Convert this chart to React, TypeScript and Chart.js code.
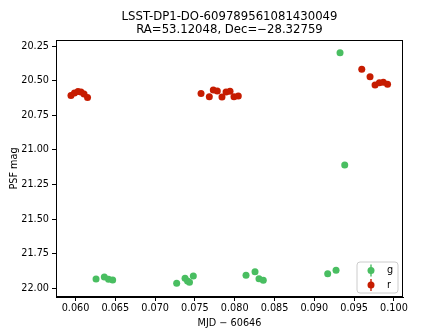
import React, { useEffect, useRef } from "react";
import { Chart, registerables } from "chart.js";

Chart.register(...registerables);

const TITLE_LINES = ["LSST-DP1-DO-609789561081430049", "RA=53.12048, Dec=\u221228.32759"];
const X_LABEL = "MJD \u2212 60646";
const Y_LABEL = "PSF mag";
const BANDS = ["g", "r"];
const BAND_COLORS = ["#49be61", "#c61c00"];

const G_MJD = [
  0.06258, 0.06362, 0.06415, 0.06467,
  0.07271, 0.07376, 0.07407, 0.07432, 0.0748,
  0.08142, 0.08255, 0.08305, 0.08359,
  0.09168, 0.09273, 0.09323, 0.09382,
];
const G_MAG = [
  21.934, 21.919, 21.936, 21.941,
  21.965, 21.929, 21.948, 21.957, 21.912,
  21.907, 21.881, 21.931, 21.943,
  21.895, 21.871, 20.298, 21.11,
];
const R_MJD = [
  0.05943, 0.05987, 0.06031, 0.06069, 0.06107, 0.06151,
  0.07577, 0.07681, 0.07731, 0.07781, 0.0784, 0.07891, 0.07941, 0.07991, 0.08045,
  0.09596, 0.097, 0.09763, 0.09817, 0.09867, 0.0992,
];
const R_MAG = [
  20.608, 20.59, 20.579, 20.582, 20.597, 20.622,
  20.593, 20.616, 20.568, 20.575, 20.618, 20.582, 20.577, 20.616, 20.611,
  20.418, 20.472, 20.532, 20.515, 20.512, 20.527,
];

const X_TICKS = [0.06, 0.065, 0.07, 0.075, 0.08, 0.085, 0.09, 0.095, 0.1];
const Y_TICKS = [20.25, 20.5, 20.75, 21.0, 21.25, 21.5, 21.75, 22.0];
const X_RANGE = [0.05755, 0.10114];
const Y_RANGE = [20.2066, 22.0636];

const FONT = "'DejaVu Sans', sans-serif";

const textPlugin = {
  id: "mplText",
  afterDraw(chart: any) {
    const ctx = chart.ctx;
    const a = chart.chartArea;
    ctx.save();
    // frame
    ctx.strokeStyle = "#000";
    ctx.lineWidth = 1;
    ctx.strokeRect(a.left + 0.5, a.top + 0.5, a.right - a.left - 1, a.bottom - a.top - 1);
    // title
    ctx.fillStyle = "#000";
    ctx.textAlign = "center";
    ctx.textBaseline = "middle";
    ctx.font = `11.7px ${FONT}`;
    const cx = (a.left + a.right) / 2;
    ctx.fillText(TITLE_LINES[0], cx, 17);
    ctx.fillText(TITLE_LINES[1], cx, 30);
    // axis labels
    ctx.font = `9.7px ${FONT}`;
    ctx.fillText(X_LABEL, cx, 323);
    ctx.save();
    ctx.translate(14, (a.top + a.bottom) / 2);
    ctx.rotate(-Math.PI / 2);
    ctx.fillText(Y_LABEL, 0, 0);
    ctx.restore();
    // legend
    const bx = 357, by = 262, bw = 41, bh = 31, r = 3;
    ctx.beginPath();
    ctx.moveTo(bx + r, by);
    ctx.lineTo(bx + bw - r, by);
    ctx.quadraticCurveTo(bx + bw, by, bx + bw, by + r);
    ctx.lineTo(bx + bw, by + bh - r);
    ctx.quadraticCurveTo(bx + bw, by + bh, bx + bw - r, by + bh);
    ctx.lineTo(bx + r, by + bh);
    ctx.quadraticCurveTo(bx, by + bh, bx, by + bh - r);
    ctx.lineTo(bx, by + r);
    ctx.quadraticCurveTo(bx, by, bx + r, by);
    ctx.closePath();
    ctx.fillStyle = "rgba(255,255,255,0.8)";
    ctx.fill();
    ctx.strokeStyle = "#cccccc";
    ctx.lineWidth = 1;
    ctx.stroke();
    BANDS.forEach((b, i) => {
      const y = 270.5 + i * 14.5;
      const x = 371;
      ctx.strokeStyle = BAND_COLORS[i];
      ctx.lineWidth = 1.4;
      ctx.beginPath();
      ctx.moveTo(x, y - 6);
      ctx.lineTo(x, y + 6);
      ctx.stroke();
      ctx.fillStyle = BAND_COLORS[i];
      ctx.beginPath();
      ctx.arc(x, y, 3.5, 0, Math.PI * 2);
      ctx.fill();
      ctx.fillStyle = "#000";
      ctx.textAlign = "left";
      ctx.font = `9.7px ${FONT}`;
      ctx.fillText(b, 387, y);
    });
    ctx.restore();
  },
};

export default function App() {
  const ref = useRef<HTMLCanvasElement>(null);
  useEffect(() => {
    document.body.style.margin = "0";
    const canvas = ref.current!;
    const toPts = (xs: number[], ys: number[]) => xs.map((x, i) => ({ x, y: ys[i] }));
    const chart = new Chart(canvas, {
      type: "scatter",
      data: {
        datasets: [
          {
            label: BANDS[0],
            data: toPts(G_MJD, G_MAG),
            backgroundColor: BAND_COLORS[0],
            borderColor: BAND_COLORS[0],
            pointRadius: 3.5,
            borderWidth: 0,
          },
          {
            label: BANDS[1],
            data: toPts(R_MJD, R_MAG),
            backgroundColor: BAND_COLORS[1],
            borderColor: BAND_COLORS[1],
            pointRadius: 3.5,
            borderWidth: 0,
          },
        ],
      },
      options: {
        animation: false,
        responsive: false,
        devicePixelRatio: 1,
        layout: { padding: { top: 40, right: 45, left: 0, bottom: 0 } },
        plugins: { legend: { display: false }, tooltip: { enabled: false }, title: { display: false } },
        scales: {
          x: {
            type: "linear",
            min: X_RANGE[0],
            max: X_RANGE[1],
            afterBuildTicks: (s: any) => {
              s.ticks = X_TICKS.map((v) => ({ value: v }));
            },
            afterFit: (s: any) => {
              s.height = 39;
            },
            grid: { drawOnChartArea: false, drawTicks: true, tickLength: 4, color: "#000", tickWidth: 1 },
            border: { display: true, color: "#000", width: 1 },
            ticks: {
              color: "#000",
              padding: 2,
              maxRotation: 0,
              font: { family: FONT, size: 9.7 },
              callback: (v: any) => Number(v).toFixed(3),
            },
          },
          y: {
            type: "linear",
            reverse: true,
            min: Y_RANGE[0],
            max: Y_RANGE[1],
            afterBuildTicks: (s: any) => {
              s.ticks = Y_TICKS.map((v) => ({ value: v }));
            },
            afterFit: (s: any) => {
              s.width = 56;
            },
            grid: { drawOnChartArea: false, drawTicks: true, tickLength: 4, color: "#000", tickWidth: 1 },
            border: { display: true, color: "#000", width: 1 },
            ticks: {
              color: "#000",
              padding: 3,
              font: { family: FONT, size: 9.7 },
              callback: (v: any) => Number(v).toFixed(2),
            },
          },
        },
      },
      plugins: [textPlugin],
    } as any);
    return () => chart.destroy();
  }, []);
  return (
    <div style={{ position: "fixed", left: 0, top: 0, width: 448, height: 336, background: "#fff" }}>
      <canvas ref={ref} width={448} height={336} style={{ width: 448, height: 336, display: "block" }} />
    </div>
  );
}
